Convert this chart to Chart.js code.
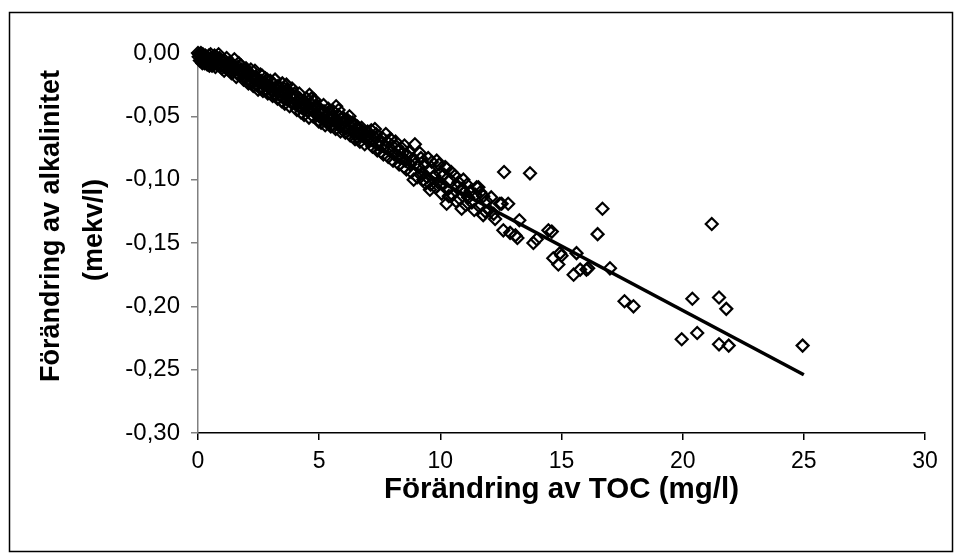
<!DOCTYPE html>
<html>
<head>
<meta charset="utf-8">
<script src="https://cdn.jsdelivr.net/npm/chart.js@4"></script>
<style>
  html, body { margin: 0; padding: 0; background: #fff; }
  #wrap { width: 955px; height: 554px; }
</style>
</head>
<body>
<div id="wrap"><canvas id="chart" width="955" height="554"></canvas></div>
<script>
// Förändring av TOC (mg/l)
const tocChange = [
  0.00, 0.05, 0.10, 0.12, 0.15, 0.20, 0.22, 0.25, 0.30, 0.32,
  0.35, 0.40, 0.42, 0.45, 0.50, 0.55, 0.60, 0.62, 0.70, 0.75,
  0.78, 0.80, 0.85, 0.90, 0.95, 1.00, 0.08, 0.18, 0.38, 0.58,
  1.05, 1.10, 1.15, 1.20, 1.25, 1.30, 1.35, 1.40, 1.45, 1.50,
  1.55, 1.60, 1.65, 1.70, 1.75, 1.80, 1.85, 1.90, 1.95, 2.00,
  2.05, 2.10, 2.15, 2.20, 2.25, 2.30, 2.40, 2.45, 2.50, 2.55,
  2.60, 2.70, 2.75, 2.80, 2.85, 2.90, 2.95, 3.00, 2.35, 2.65,
  3.05, 3.10, 3.15, 3.20, 3.30, 3.35, 3.40, 3.50, 3.55, 3.60,
  3.70, 3.75, 3.80, 3.85, 3.90, 3.95, 4.00, 3.45, 3.65, 4.05,
  4.10, 4.15, 4.20, 4.30, 4.35, 4.40, 4.50, 4.55, 4.60, 4.65,
  4.70, 4.80, 4.85, 4.90, 4.95, 5.00, 4.25, 4.75, 5.05, 5.10,
  5.15, 5.20, 5.30, 5.35, 5.40, 5.50, 5.55, 5.60, 5.70, 5.75,
  5.80, 5.85, 5.90, 5.95, 6.00, 5.25, 6.05, 6.10, 6.20, 6.30,
  6.35, 6.45, 6.50, 6.60, 6.70, 6.75, 6.85, 6.90, 7.00, 6.25,
  6.55, 7.10, 7.15, 7.25, 7.35, 7.45, 7.50, 7.60, 7.70, 7.80,
  7.90, 8.00, 7.55, 8.10, 8.20, 8.25, 8.35, 8.45, 8.55, 8.65,
  8.75, 8.85, 8.95, 8.90, 9.00, 8.60, 9.10, 9.15, 9.25, 9.35,
  9.45, 9.55, 9.57, 9.65, 9.75, 9.85, 9.90, 10.00, 9.40, 10.10,
  10.20, 10.25, 10.30, 10.40, 10.50, 10.60, 10.70, 10.80, 10.88, 10.95,
  11.00, 10.26, 11.15, 11.30, 11.50, 11.57, 11.60, 11.77, 11.77, 11.90,
  12.00, 12.26, 12.46, 12.53, 12.60, 12.80, 12.88, 13.10, 13.18, 13.26,
  12.63, 13.70, 13.84, 13.98, 14.46, 14.60, 14.66, 14.87, 15.00, 14.94,
  15.50, 15.62, 15.77, 16.03, 16.10, 16.49, 16.69, 17.00, 17.60, 17.97,
  19.96, 20.40, 20.60, 21.20, 21.50, 21.50, 21.80, 21.90, 24.95,
  0.03, 0.13, 0.27, 0.47, 0.65, 0.72, 0.88, 0.98, 0.52, 0.68,
  1.08, 1.18, 1.28, 1.38, 1.48, 1.58, 1.68, 1.78, 1.88, 1.98,
  2.08, 2.18, 2.28, 2.38, 2.48, 2.58, 2.68, 2.78, 2.88, 2.98,
  3.08, 3.18, 3.28, 3.38, 3.48, 3.58, 3.68, 3.78, 3.88, 3.98,
  4.08, 4.18, 4.28, 4.38, 4.48, 4.58, 4.68, 4.78, 4.88, 4.98,
  5.08, 5.18, 5.28, 5.38, 5.48, 5.58, 5.68, 5.78, 5.88, 5.98,
  6.08, 6.18, 6.28, 6.38, 6.48, 6.58, 6.68, 6.78, 6.88, 6.98,
  7.05, 7.20, 7.30, 7.40, 7.65, 7.75, 7.85, 7.95, 8.05, 7.32,
  8.15, 8.30, 8.40, 8.50, 8.70, 8.80, 9.05, 9.20, 9.30, 8.52,
  9.50, 9.60, 9.80, 9.95, 10.05, 10.15, 10.35, 10.45, 10.65, 10.75,
  10.90, 11.05, 11.10, 11.25, 11.40, 11.45, 11.65, 11.85, 12.10, 12.20
];

// Förändring av alkalinitet (mekv/l)
const alkChange = [
  0.000, -0.001, -0.002, 0.000, -0.004, -0.001, -0.003, -0.005, -0.002, -0.006,
  -0.003, -0.004, -0.007, -0.002, -0.005, -0.008, -0.004, -0.006, -0.007, -0.003,
  -0.009, -0.006, -0.001, -0.008, -0.010, -0.007, -0.006, -0.008, -0.009, -0.010,
  -0.010, -0.006, -0.012, -0.009, -0.011, -0.014, -0.008, -0.012, -0.015, -0.005,
  -0.013, -0.016, -0.011, -0.014, -0.018, -0.013, -0.016, -0.019, -0.015, -0.017,
  -0.021, -0.016, -0.019, -0.023, -0.018, -0.021, -0.025, -0.020, -0.023, -0.027,
  -0.022, -0.025, -0.029, -0.024, -0.021, -0.027, -0.031, -0.026, -0.014, -0.018,
  -0.029, -0.024, -0.032, -0.028, -0.026, -0.033, -0.030, -0.035, -0.028, -0.032,
  -0.037, -0.031, -0.034, -0.039, -0.033, -0.036, -0.040, -0.038, -0.025, -0.035,
  -0.038, -0.042, -0.036, -0.040, -0.044, -0.038, -0.042, -0.046, -0.033, -0.040,
  -0.044, -0.037, -0.048, -0.043, -0.046, -0.050, -0.047, -0.050, -0.045, -0.048,
  -0.052, -0.046, -0.050, -0.054, -0.048, -0.052, -0.056, -0.050, -0.042, -0.054,
  -0.045, -0.058, -0.052, -0.055, -0.059, -0.057, -0.054, -0.058, -0.061, -0.055,
  -0.059, -0.063, -0.057, -0.061, -0.065, -0.059, -0.063, -0.067, -0.062, -0.050,
  -0.066, -0.066, -0.061, -0.069, -0.064, -0.072, -0.070, -0.067, -0.074, -0.070,
  -0.077, -0.073, -0.078, -0.080, -0.074, -0.077, -0.083, -0.079, -0.085, -0.081,
  -0.088, -0.084, -0.072, -0.100, -0.087, -0.092, -0.090, -0.079, -0.095, -0.088,
  -0.098, -0.092, -0.108, -0.086, -0.097, -0.085, -0.102, -0.095, -0.103, -0.104,
  -0.090, -0.091, -0.108, -0.100, -0.112, -0.097, -0.106, -0.115, -0.123, -0.100,
  -0.110, -0.119, -0.114, -0.118, -0.106, -0.106, -0.121, -0.113, -0.128, -0.117,
  -0.124, -0.131, -0.119, -0.119, -0.140, -0.119, -0.142, -0.144, -0.146, -0.132,
  -0.094, -0.095, -0.150, -0.147, -0.140, -0.141, -0.162, -0.167, -0.160, -0.158,
  -0.175, -0.158, -0.171, -0.171, -0.170, -0.143, -0.123, -0.170, -0.196, -0.200,
  -0.226, -0.194, -0.221, -0.135, -0.193, -0.230, -0.202, -0.231, -0.231,
  -0.003, -0.006, -0.008, -0.010, -0.009, -0.011, -0.004, -0.012, -0.001, -0.002,
  -0.014, -0.004, -0.008, -0.016, -0.010, -0.019, -0.008, -0.010, -0.021, -0.012,
  -0.024, -0.013, -0.026, -0.019, -0.029, -0.017, -0.030, -0.020, -0.032, -0.022,
  -0.034, -0.021, -0.036, -0.027, -0.024, -0.040, -0.029, -0.042, -0.028, -0.032,
  -0.045, -0.032, -0.043, -0.049, -0.036, -0.051, -0.036, -0.045, -0.041, -0.054,
  -0.055, -0.041, -0.053, -0.044, -0.058, -0.046, -0.060, -0.049, -0.062, -0.051,
  -0.063, -0.053, -0.065, -0.055, -0.068, -0.058, -0.070, -0.062, -0.072, -0.066,
  -0.070, -0.074, -0.060, -0.077, -0.080, -0.064, -0.082, -0.068, -0.085, -0.067,
  -0.070, -0.088, -0.075, -0.090, -0.078, -0.094, -0.098, -0.083, -0.100, -0.073,
  -0.083, -0.104, -0.106, -0.088, -0.111, -0.096, -0.113, -0.094, -0.117, -0.102,
  -0.107, -0.120, -0.104, -0.109, -0.124, -0.112, -0.110, -0.125, -0.114, -0.127
];

// linear trend line end points
const trendX = [0, 25];
const trendY = [0, -0.254];

// axis ticks
const xTicks = [0, 5, 10, 15, 20, 25, 30];
const yTicks = [0, -0.05, -0.10, -0.15, -0.20, -0.25, -0.30];

const yTitleLines = ['Förändring av alkalinitet', '(mekv/l)'];

const points = tocChange.map((x, i) => ({ x: x, y: alkChange[i] }));
const trend = trendX.map((x, i) => ({ x: x, y: trendY[i] }));

// outer frame around the whole chart
const framePlugin = {
  id: 'frame',
  afterDraw(chart) {
    const ctx = chart.ctx;
    ctx.save();
    ctx.strokeStyle = '#000';
    ctx.lineWidth = 1.5;
    ctx.strokeRect(9.5, 12.5, 943, 539);
    ctx.restore();
  }
};

// rotated two-line y axis title, sits a bit above the plot centre like the original
const yTitlePlugin = {
  id: 'yTitle',
  afterDraw(chart) {
    const ctx = chart.ctx;
    const mid = (chart.chartArea.top + chart.chartArea.bottom) / 2;
    ctx.save();
    ctx.fillStyle = '#000';
    ctx.font = 'bold 27px "Liberation Sans"';
    ctx.textAlign = 'center';
    ctx.textBaseline = 'middle';
    ctx.translate(52, mid - 17);
    ctx.rotate(-Math.PI / 2);
    ctx.fillText(yTitleLines[0], 0, 0);
    ctx.fillText(yTitleLines[1], -4, 43);
    ctx.restore();
  }
};

const ctx = document.getElementById('chart').getContext('2d');
new Chart(ctx, {
  type: 'scatter',
  data: {
    datasets: [
      {
        label: 'Trend',
        data: trend,
        showLine: true,
        borderColor: '#000',
        borderWidth: 3.5,
        pointRadius: 0,
        fill: false,
        order: 0
      },
      {
        label: 'Data',
        data: points,
        pointStyle: 'rectRot',
        pointRadius: 6,
        pointBorderWidth: 2.2,
        pointBorderColor: '#000',
        pointBackgroundColor: 'rgba(0,0,0,0)',
        clip: false,
        order: 1
      }
    ]
  },
  options: {
    responsive: false,
    animation: false,
    layout: { padding: { left: 0, top: 53, right: 30, bottom: 0 } },
    plugins: {
      legend: { display: false },
      tooltip: { enabled: false }
    },
    scales: {
      x: {
        type: 'linear',
        min: 0,
        max: 30,
        afterBuildTicks: (scale) => { scale.ticks = xTicks.map(v => ({ value: v })); },
        afterFit: (scale) => { scale.height = 121; },
        border: { color: '#000', width: 1.5 },
        grid: { drawOnChartArea: false, color: '#000', tickLength: 7, lineWidth: 1.5 },
        ticks: {
          color: '#000',
          padding: 8,
          maxRotation: 0,
          font: { family: 'Liberation Sans', size: 23 }
        },
        title: {
          display: true,
          text: 'Förändring av TOC (mg/l)',
          color: '#000',
          padding: { top: 0, bottom: 46 },
          font: { family: 'Liberation Sans', size: 29.5, weight: 'bold' }
        }
      },
      y: {
        type: 'linear',
        min: -0.30,
        max: 0,
        afterBuildTicks: (scale) => { scale.ticks = yTicks.map(v => ({ value: v })); },
        afterFit: (scale) => { scale.width = 198; },
        border: { color: '#808080', width: 1.5 },
        grid: { drawOnChartArea: false, color: '#808080', tickLength: 7, lineWidth: 1.5 },
        ticks: {
          color: '#000',
          padding: 11,
          font: { family: 'Liberation Sans', size: 24 },
          callback: (v) => (Math.abs(v) < 1e-9 ? 0 : v).toFixed(2).replace('.', ',')
        },
        title: { display: false }
      }
    }
  },
  plugins: [framePlugin, yTitlePlugin]
});
</script>
</body>
</html>
